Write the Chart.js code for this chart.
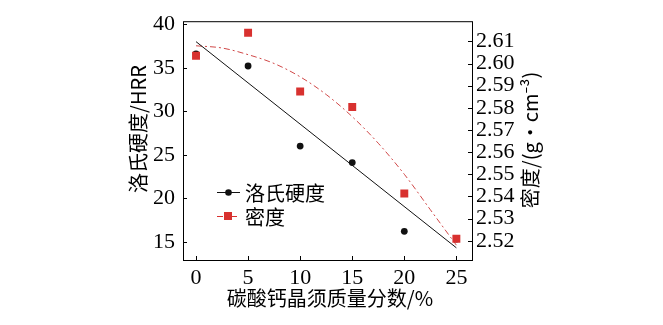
<!DOCTYPE html>
<html>
<head>
<meta charset="utf-8">
<script src="https://cdn.jsdelivr.net/npm/chart.js@4.4.1/dist/chart.umd.min.js"></script>
<style>
  html, body { margin: 0; padding: 0; background: #fff; }
</style>
</head>
<body>
<canvas id="chart-whisker" width="663" height="325"></canvas>
<script>
// 碳酸钙晶须质量分数 (%)
const massFraction = [0, 5, 10, 15, 20, 25]
const hardness = [36.6, 35.2, 26.0, 24.1, 16.2, 15.3]
const density = [2.6035, 2.6139, 2.5874, 2.5804, 2.5413, 2.5209]

// fitted lines
const hardnessFitX = [0, 25]
const hardnessFit = [38.0, 14.3]
const densityFitX = [0, 2.5, 5, 7.5, 10, 12.5, 15, 17.5, 20, 22.5, 25]
const densityFit = [2.608, 2.607, 2.604, 2.600, 2.594, 2.586, 2.576, 2.564, 2.550, 2.534, 2.518]

const xTicks = [0, 5, 10, 15, 20, 25]
const hardnessTicks = [15, 20, 25, 30, 35, 40]
const densityTicks = [2.52, 2.53, 2.54, 2.55, 2.56, 2.57, 2.58, 2.59, 2.60, 2.61]

const RED = "#d8312f"
const serif = "'Liberation Serif', 'DejaVu Serif', serif"
const cjk = "'Noto Sans CJK SC', 'Noto Sans', sans-serif"

const pairs = (xs, ys) => xs.map((x, i) => ({ x, y: ys[i] }))

// frame, inward tick marks, axis titles and legend
const decor = {
  id: "decor",
  afterDraw(chart) {
    const { ctx, chartArea: a, scales } = chart
    ctx.save()
    ctx.strokeStyle = "#000"
    ctx.lineWidth = 1
    ctx.strokeRect(a.left + 0.5, a.top + 0.5, a.right - a.left, a.bottom - a.top)

    ctx.beginPath()
    scales.x.ticks.forEach(t => {
      const px = Math.round(scales.x.getPixelForValue(t.value)) + 0.5
      ctx.moveTo(px, a.bottom); ctx.lineTo(px, a.bottom - 4)
    })
    scales.y.ticks.forEach(t => {
      const py = Math.round(scales.y.getPixelForValue(t.value)) + 0.5
      ctx.moveTo(a.left, py); ctx.lineTo(a.left + 4, py)
    })
    scales.y2.ticks.forEach(t => {
      const py = Math.round(scales.y2.getPixelForValue(t.value)) + 0.5
      ctx.moveTo(a.right, py); ctx.lineTo(a.right - 4, py)
    })
    ctx.stroke()

    ctx.fillStyle = "#000"
    ctx.textAlign = "center"
    ctx.textBaseline = "middle"
    ctx.font = "20px " + cjk
    ctx.fillText("碳酸钙晶须质量分数/%", 330, 298)

    ctx.save()
    ctx.translate(138, 129)
    ctx.rotate(-Math.PI / 2)
    ctx.fillText("洛氏硬度/HRR", 0, 0)
    ctx.restore()

    ctx.save()
    ctx.translate(530, 140)
    ctx.rotate(-Math.PI / 2)
    ctx.fillText("密度/(g·cm⁻³)", 0, 0)
    ctx.restore()

    // legend
    const ds = chart.data.datasets
    const rows = [
      { d: ds[1], y: 192, color: "#111", dash: [] , square: false },
      { d: ds[0], y: 216, color: RED, dash: [6, 3, 2, 3], square: true }
    ]
    rows.forEach(r => {
      ctx.beginPath()
      ctx.setLineDash(r.dash)
      ctx.strokeStyle = r.color
      ctx.moveTo(217, r.y + 0.5); ctx.lineTo(240, r.y + 0.5)
      ctx.stroke()
      ctx.setLineDash([])
      ctx.fillStyle = r.d.backgroundColor
      if (r.square) {
        ctx.fillRect(224, r.y - 4, 8, 8)
      } else {
        ctx.beginPath()
        ctx.arc(228.5, r.y + 0.5, 3.3, 0, Math.PI * 2)
        ctx.fill()
      }
      ctx.fillStyle = "#000"
      ctx.textAlign = "left"
      ctx.font = "20px " + cjk
      ctx.fillText(r.d.label, 245, r.y + 1)
    })
    ctx.restore()
  }
}

new Chart(document.getElementById("chart-whisker"), {
  type: "scatter",
  data: {
    datasets: [
      {
        label: "密度",
        data: pairs(massFraction, density),
        yAxisID: "y2",
        pointStyle: "rect",
        pointRadius: 5.6,
        backgroundColor: RED,
        borderWidth: 0,
        order: 0
      },
      {
        label: "洛氏硬度",
        data: pairs(massFraction, hardness),
        yAxisID: "y",
        pointStyle: "circle",
        pointRadius: 3.4,
        backgroundColor: "#111",
        borderWidth: 0,
        order: 1
      },
      {
        label: "hardness fit",
        data: pairs(hardnessFitX, hardnessFit),
        yAxisID: "y",
        showLine: true,
        pointRadius: 0,
        borderColor: "#111",
        borderWidth: 1,
        order: 2
      },
      {
        label: "density fit",
        data: pairs(densityFitX, densityFit),
        yAxisID: "y2",
        showLine: true,
        pointRadius: 0,
        cubicInterpolationMode: "monotone",
        borderColor: "#d04848",
        borderWidth: 1,
        borderDash: [6, 3, 2, 3],
        order: 3
      }
    ]
  },
  options: {
    responsive: false,
    animation: false,
    devicePixelRatio: 1,
    layout: { padding: { top: 12, left: 0, right: 0, bottom: 0 } },
    plugins: { legend: { display: false }, tooltip: { enabled: false } },
    scales: {
      x: {
        type: "linear",
        min: -1.25,
        max: 26.5,
        afterFit: s => { s.height = 65 },
        afterBuildTicks: s => { s.ticks = xTicks.map(v => ({ value: v })) },
        grid: { display: false, drawTicks: false },
        border: { display: false },
        ticks: { color: "#000", padding: 5, maxRotation: 0, autoSkip: false, font: { family: serif, size: 22 } }
      },
      y: {
        position: "left",
        min: 12.9,
        max: 40.35,
        afterFit: s => { s.width = 183 },
        afterBuildTicks: s => { s.ticks = hardnessTicks.map(v => ({ value: v })) },
        grid: { display: false, drawTicks: false },
        border: { display: false },
        ticks: { color: "#000", padding: 8, autoSkip: false, font: { family: serif, size: 22 } }
      },
      y2: {
        position: "right",
        min: 2.5113,
        max: 2.6191,
        afterFit: s => { s.width = 191 },
        afterBuildTicks: s => { s.ticks = densityTicks.map(v => ({ value: v })) },
        grid: { display: false, drawTicks: false },
        border: { display: false },
        ticks: { color: "#000", padding: 4, autoSkip: false, font: { family: serif, size: 22 }, callback: v => v.toFixed(2) }
      }
    }
  },
  plugins: [decor]
})
</script>
</body>
</html>
